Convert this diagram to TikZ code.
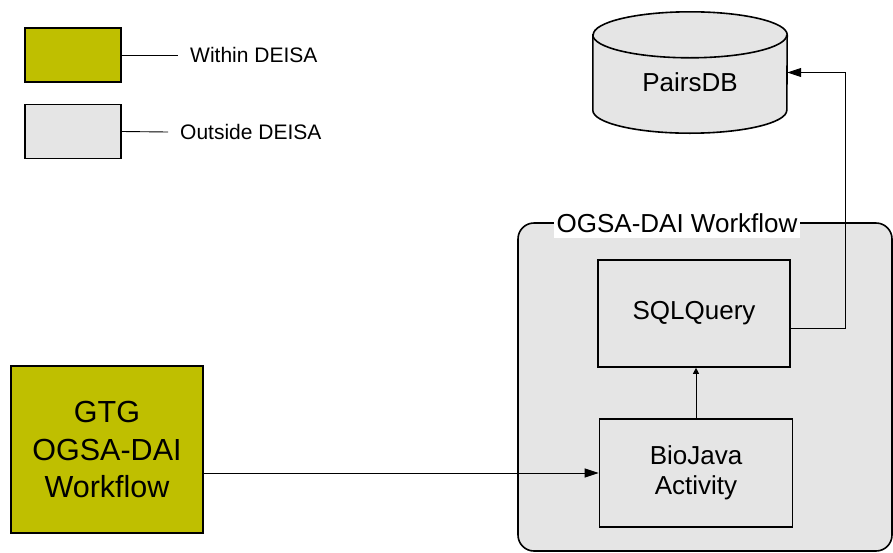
\documentclass[tikz,border=0pt]{standalone}
\usepackage{fontspec}
\setmainfont{Liberation Sans}
\usetikzlibrary{arrows.meta}
\definecolor{deisa}{RGB}{191,191,0}
\definecolor{outside}{RGB}{229,229,229}
\begin{document}
\begin{tikzpicture}[x=1pt,y=-1pt,
  box/.style={rectangle,draw,line width=1.6pt,inner sep=0pt,fill=outside,align=center,font=\fontsize{26}{30}\selectfont},
  legbox/.style={rectangle,draw,line width=1.6pt,inner sep=0pt,minimum width=96pt,minimum height=54pt},
  legtxt/.style={anchor=west,inner sep=0pt,font=\fontsize{21}{25}\selectfont},
  conn/.style={line width=0.9pt},
  >={Triangle[length=14pt,width=9pt]}]
\useasboundingbox (0,0) rectangle (893,552);
% legend
\node[legbox,fill=deisa] (within) at (73,55) {};
\node[legtxt] (withintxt) at (190,55) {Within DEISA};
\node[legbox,fill=outside] (outside) at (73,131.5) {};
\node[legtxt] (outsidetxt) at (180,132) {Outside DEISA};
\draw[conn] (within.east) -- ([xshift=-12pt]withintxt.west);
\draw[conn] (outside.east) -- ([xshift=-12pt]outsidetxt.west);
% database
\node[rectangle,inner sep=0pt,minimum width=194pt,minimum height=121pt,font=\fontsize{26}{30}\selectfont] (db) at (690,72.5) {};
\filldraw[fill=outside,line width=1.6pt] ([yshift=-23pt]db.north west) -- ([yshift=23pt]db.south west)
  arc[start angle=180,end angle=360,x radius=97pt,y radius=23pt] -- ([yshift=-23pt]db.north east)
  arc[start angle=0,end angle=180,x radius=97pt,y radius=23pt] -- cycle;
\draw[line width=1.6pt] ([yshift=-23pt]db.north west) arc[start angle=180,end angle=360,x radius=97pt,y radius=23pt];
\node[font=\fontsize{26}{30}\selectfont] at ([yshift=-10pt]db.center) {PairsDB};
% workflow
\node[rectangle,draw,line width=1.6pt,fill=outside,rounded corners=16pt,inner sep=0pt,minimum width=374pt,minimum height=328pt] (wf) at (705,387) {};
\node[fill=white,inner xsep=3pt,inner ysep=5pt,font=\fontsize{26}{30}\selectfont] (wflabel) at (677,223) {OGSA-DAI Workflow};
\node[box,minimum width=192pt,minimum height=107pt] (sql) at (694,313.5) {SQLQuery};
\node[box,minimum width=193pt,minimum height=108pt] (bio) at (696,473) {BioJava\\Activity};
\node[box,fill=deisa,minimum width=192pt,minimum height=167pt,font=\fontsize{30.5}{37.5}\selectfont] (gtg) at (107,449.5) {GTG\\OGSA-DAI\\Workflow};
% connectors
\draw[conn,->] (gtg.east |- bio.west) -- (bio.west);
\draw[conn,-{Triangle[length=6pt,width=6pt]}] (bio.north) -- (bio.north |- sql.south);
\draw[conn,->] ([yshift=-14.5pt]sql.east) -| ([xshift=58pt]db.east) -- (db.east);
\end{tikzpicture}
\end{document}
